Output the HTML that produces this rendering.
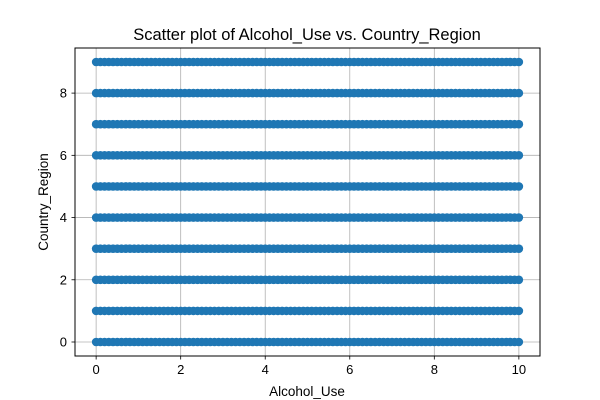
<!DOCTYPE html>
<html><head><meta charset="utf-8"><style>
body{margin:0;background:#fff;}
svg{display:block;font-family:"Liberation Sans","DejaVu Sans",sans-serif;}
</style></head><body>
<svg id="chart" width="600" height="400">
<rect width="600" height="400" fill="#fff"/>
<text x="307" y="40" font-size="16.5" text-anchor="middle">Scatter plot of Alcohol_Use vs. Country_Region</text>
<g id="grid"></g>
<g id="points"></g>
<rect x="75" y="48" width="465" height="308" fill="none" stroke="#000" stroke-width="1"/>
<g id="ticks"></g>
<text x="307" y="396" font-size="13.5" text-anchor="middle">Alcohol_Use</text>
<text x="0" y="0" font-size="13.5" text-anchor="middle" transform="translate(48,202) rotate(-90)">Country_Region</text>
</svg>
<script>
const xValues = [0,0.1,0.2,0.3,0.4,0.5,0.6,0.7,0.8,0.9,1,1.1,1.2,1.3,1.4,1.5,1.6,1.7,1.8,1.9,2,2.1,2.2,2.3,2.4,2.5,2.6,2.7,2.8,2.9,3,3.1,3.2,3.3,3.4,3.5,3.6,3.7,3.8,3.9,4,4.1,4.2,4.3,4.4,4.5,4.6,4.7,4.8,4.9,5,5.1,5.2,5.3,5.4,5.5,5.6,5.7,5.8,5.9,6,6.1,6.2,6.3,6.4,6.5,6.6,6.7,6.8,6.9,7,7.1,7.2,7.3,7.4,7.5,7.6,7.7,7.8,7.9,8,8.1,8.2,8.3,8.4,8.5,8.6,8.7,8.8,8.9,9,9.1,9.2,9.3,9.4,9.5,9.6,9.7,9.8,9.9,10];
const yCategories = [0,1,2,3,4,5,6,7,8,9];
const xTicks = [0,2,4,6,8,10];
const yTicks = [0,2,4,6,8];
const NS="http://www.w3.org/2000/svg";
function sx(v){return 75+(v+0.5)/11*465;}
function sy(v){return 356-(v+0.45)/9.9*308;}
function mk(tag,attrs,parent){const e=document.createElementNS(NS,tag);for(const k in attrs)e.setAttribute(k,attrs[k]);parent.appendChild(e);return e;}
const grid=document.getElementById('grid'),pts=document.getElementById('points'),tk=document.getElementById('ticks');
xTicks.forEach(t=>{
  const g=mk('line',{x1:sx(t),x2:sx(t),y1:48,y2:356,stroke:'#b0b0b0','stroke-width':0.8},grid);
  
  
  const l=mk('line',{x1:sx(t),x2:sx(t),y1:356,y2:359.5,stroke:'#000','stroke-width':0.8},tk);
  
  
  const tx=mk('text',{x:sx(t),y:374,'font-size':13,'text-anchor':'middle'},tk);tx.textContent=t;
  
  
});
yTicks.forEach(t=>{
  const g=mk('line',{x1:75,x2:540,y1:sy(t),y2:sy(t),stroke:'#b0b0b0','stroke-width':0.8},grid);
  
  
  const l=mk('line',{x1:71.5,x2:75,y1:sy(t),y2:sy(t),stroke:'#000','stroke-width':0.8},tk);
  
  
  const tx=mk('text',{x:67,y:sy(t)+4.5,'font-size':13,'text-anchor':'end'},tk);tx.textContent=t;
  
  
});
yCategories.forEach(c=>{
  xValues.forEach(v=>{
    const p=mk('circle',{cx:sx(v),cy:sy(c),r:4.3,fill:'#1f77b4'},pts);
    
    
  });
});
</script>
</body></html>
